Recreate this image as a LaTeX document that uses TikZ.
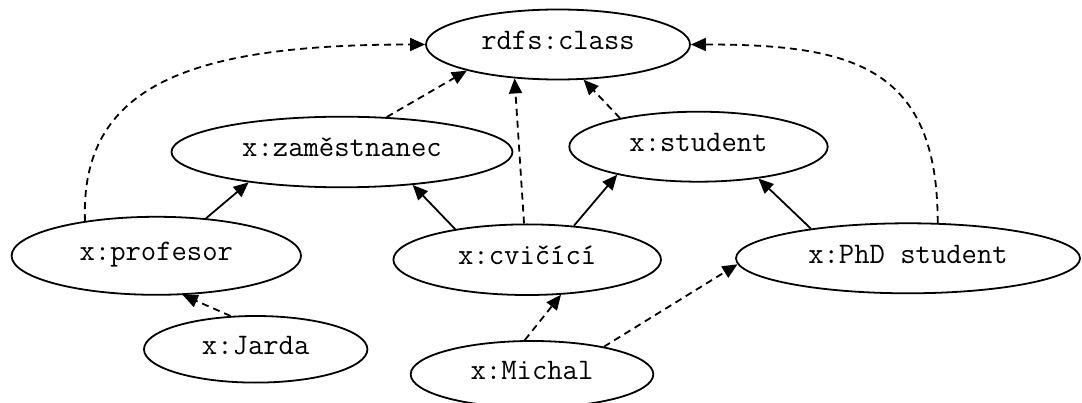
\documentclass[tikz,border=0pt]{standalone}
\usepackage{fontspec}
\usetikzlibrary{shapes.geometric,arrows.meta}
\begin{document}
\begin{tikzpicture}[x=1pt,y=-1pt,
  cls/.style={draw,ellipse,line width=1.8pt,inner sep=0pt,
    font=\ttfamily\fontsize{29.8}{34}\selectfont,text height=17pt,text depth=7pt},
  sub/.style={line width=1.8pt,-{Triangle[length=15pt,width=13pt]}},
  inst/.style={sub,dash pattern=on 7pt off 5pt}]
\clip (0,0) rectangle (1082,403);
\fill[white] (0,0) rectangle (1082,403);

\node[cls,minimum width=264pt,minimum height=70pt] (rdfs) at (558,44.5) {rdfs:class};
\node[cls,minimum width=341pt,minimum height=70.6pt] (zam) at (342,152) {x:zaměstnanec};
\node[cls,minimum width=258.4pt,minimum height=70pt] (stud) at (698.5,146.7) {x:student};
\node[cls,minimum width=289.4pt,minimum height=78pt] (prof) at (156.3,255.8) {x:profesor};
\node[cls,minimum width=267.6pt,minimum height=70.6pt] (cv) at (527.2,259.7) {x:cvičící};
\node[cls,minimum width=344pt,minimum height=70pt] (phd) at (908,258.3) {x:PhD student};
\node[cls,minimum width=223.4pt,minimum height=66.6pt] (jarda) at (255.7,349.3) {x:Jarda};
\node[cls,minimum width=242.6pt,minimum height=66.6pt] (michal) at (532,374.3) {x:Michal};

% subclass (solid)
\draw[sub] (prof.37.1) -- (zam.198.5);
\draw[sub] (cv.157.2) -- (zam.335.3);
\draw[sub] (cv.36) -- (stud.199.2);
\draw[sub] (phd.163) -- (stud.332.1);

% instance / type (dashed)
\draw[inst] (zam.38.1) -- (rdfs.196.1);
\draw[inst] (cv.95.2) -- (rdfs.218.1);
\draw[inst] (stud.160) -- (rdfs.306.2);
\draw[inst] (prof.154.4) .. controls (80,85) and (190,44.5) .. (rdfs.180);
\draw[inst] (phd.50.1) .. controls (938,65) and (850,44.5) .. (rdfs.0);
\draw[inst] (jarda.127.7) -- (prof.304.6);
\draw[inst] (michal.102.1) -- (cv.314.3);
\draw[inst] (michal.21.4) -- (phd.182.9);
\end{tikzpicture}
\end{document}
